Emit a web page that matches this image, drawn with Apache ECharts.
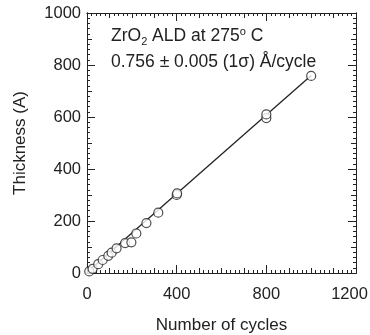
<!DOCTYPE html>
<html>
<head>
<meta charset="utf-8">
<script src="https://cdn.jsdelivr.net/npm/echarts@6/dist/echarts.min.js"></script>
<style>
  html, body { margin: 0; padding: 0; background: #fff; }
  #chart { width: 370px; height: 335px; }
</style>
</head>
<body>
<div id="chart"></div>
<script>
// measured points (cycles, thickness in A)
var cycles = [10, 25, 50, 70, 95, 110, 132, 170, 198, 220, 265, 318, 400, 402, 800, 800, 1000];
var thickness = [6, 16, 34, 50, 66, 78, 95, 115, 118, 152, 192, 232, 300, 306, 596, 610, 758];
// linear fit line endpoints
var fitX = [0, 1000];
var fitY = [2, 760];
var xTicks = [0, 400, 800, 1200];
var yTicks = [0, 200, 400, 600, 800, 1000];

var chart = echarts.init(document.getElementById("chart"));
var ink = "#222";
var font = "Liberation Sans";
var xMax = xTicks[xTicks.length - 1];
var yMax = yTicks[yTicks.length - 1];

function tickAxis(grid, pos, max, interval, len, minorSplit, extra) {
  var ax = {
    gridIndex: grid,
    position: pos,
    type: "value",
    min: 0,
    max: max,
    interval: interval,
    axisLine: { show: true, onZero: false, lineStyle: { color: ink, width: 1 } },
    axisTick: { show: true, inside: true, length: len, lineStyle: { color: ink, width: 1 } },
    minorTick: { show: minorSplit > 0, splitNumber: minorSplit || 5, length: 3, lineStyle: { color: ink, width: 1 } },
    axisLabel: { show: false },
    splitLine: { show: false }
  };
  return Object.assign(ax, extra || {});
}

var labelStyle = { fontFamily: font, fontSize: 16.5, color: ink, formatter: function (v) { return String(v); } };
var nameStyle = { fontFamily: font, fontSize: 17, color: ink };

// all grids share the same box; v6 must not shrink any of them for overflowing labels
function rect() {
  return { left: 87, right: 14, top: 13, bottom: 62, containLabel: false, outerBoundsMode: "none" };
}

// grid 0: main axes with labels, grid 1: top/right box, grids 2-3: medium ticks every 100
var option = {
  animation: false,
  grid: [rect(), rect(), rect(), rect()],
  xAxis: [
    tickAxis(0, "bottom", xMax, 400, 8, 20, {
      name: "Number of cycles",
      nameLocation: "middle",
      nameGap: 44,
      nameTextStyle: nameStyle,
      axisLabel: Object.assign({ show: true, margin: 13 }, labelStyle, {
        // last label is pulled left a little so it stays inside the picture
        formatter: function (v) { return v === xMax ? "{last|" + v + "}" : String(v); },
        rich: { last: { fontFamily: font, fontSize: 16.5, color: ink, padding: [0, 13, 0, 0] } }
      })
    }),
    tickAxis(1, "top", xMax, 400, 8, 20),
    tickAxis(2, "bottom", xMax, 100, 5, 0),
    tickAxis(3, "top", xMax, 100, 5, 0)
  ],
  yAxis: [
    tickAxis(0, "left", yMax, 200, 8, 10, {
      name: "Thickness (A)",
      nameLocation: "middle",
      nameGap: 58,
      nameTextStyle: nameStyle,
      axisLabel: Object.assign({ show: true, margin: 6 }, labelStyle)
    }),
    tickAxis(1, "right", yMax, 200, 8, 10),
    tickAxis(2, "left", yMax, 100, 5, 0),
    tickAxis(3, "right", yMax, 100, 5, 0)
  ],
  graphic: [
    {
      type: "text",
      left: 111,
      top: 26,
      style: {
        text: "ZrO{sub|2} ALD at 275{sup|o} C",
        fontFamily: font,
        fontSize: 17.5,
        fill: ink,
        rich: {
          sub: { fontFamily: font, fontSize: 11, fill: ink, padding: [10, 0, 0, 0] },
          sup: { fontFamily: font, fontSize: 11, fill: ink, padding: [0, 0, 10, 0] }
        }
      }
    },
    {
      type: "text",
      left: 111,
      top: 53,
      style: {
        text: "0.756 \u00b1 0.005 (1\u03c3) \u00c5/cycle",
        fontFamily: font,
        fontSize: 17.5,
        fill: ink
      }
    }
  ],
  series: [
    {
      type: "line",
      xAxisIndex: 0,
      yAxisIndex: 0,
      data: fitX.map(function (x, i) { return [x, fitY[i]]; }),
      showSymbol: false,
      symbol: "none",
      lineStyle: { color: ink, width: 1.3 },
      z: 2
    },
    {
      type: "scatter",
      xAxisIndex: 0,
      yAxisIndex: 0,
      data: cycles.map(function (x, i) { return [x, thickness[i]]; }),
      symbol: "circle",
      symbolSize: 9,
      itemStyle: { color: "#fff", borderColor: ink, borderWidth: 1.2 },
      z: 3
    },
    // empty series so the helper grids get laid out
    { type: "scatter", xAxisIndex: 1, yAxisIndex: 1, data: [] },
    { type: "scatter", xAxisIndex: 2, yAxisIndex: 2, data: [] },
    { type: "scatter", xAxisIndex: 3, yAxisIndex: 3, data: [] }
  ]
};

chart.setOption(option);
</script>
</body>
</html>
